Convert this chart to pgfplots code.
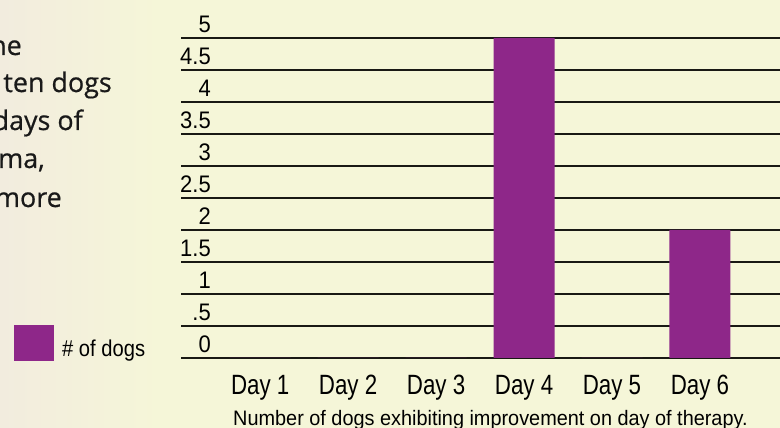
\documentclass[border=0pt]{standalone}
\usepackage{pgfplots}
\pgfplotsset{compat=1.18}
\usepackage{fontspec}
\setmainfont{Liberation Sans}
\newfontfamily\leftfont{Open Sans}[FakeBold=0.6]
\newfontfamily\condDay{Liberation Sans}[FakeStretch=0.8]
\newfontfamily\condY{Liberation Sans}[FakeStretch=0.92]
\newfontfamily\condCap{Liberation Sans}[FakeStretch=0.95]
\newfontfamily\condLeg{Liberation Sans}[FakeStretch=0.88]
\definecolor{bgY}{RGB}{245,246,216}
\definecolor{bgL}{RGB}{242,236,222}
\definecolor{barpurple}{RGB}{142,39,137}
\definecolor{gridc}{RGB}{25,25,20}
\begin{document}
\begin{tikzpicture}
\useasboundingbox (0,0) rectangle (780bp,428bp);
\clip (0,0) rectangle (780bp,428bp);
\fill[bgY] (0,0) rectangle (780bp,428bp);
\shade[left color=bgL, right color=bgY, shading angle=90] (0,0) rectangle (160bp,428bp);
\fill[bgY] (160bp,0) rectangle (780bp,428bp);
% left text fragments (cut off at the left edge, as in the reference)
\begin{scope}[every node/.style={inner sep=0pt, anchor=base east, text=black!90, font=\leftfont\fontsize{27}{27}\selectfont}]
\node at (22bp,373bp) {the};
\node at (112bp,336bp) {ten dogs};
\node at (83bp,298bp) {days of};
\node at (45bp,260bp) {ma,};
\node at (62bp,221bp) {more};
\end{scope}
% legend
\fill[barpurple] (14bp,67bp) rectangle (54bp,103bp);
\node[inner sep=0pt, anchor=base west, font=\condLeg\fontsize{23}{23}\selectfont] at (62bp,71bp) {\# of dogs};
% caption
\node[inner sep=0pt, anchor=base west, font=\condCap\fontsize{21}{21}\selectfont] at (233bp,3bp) {Number of dogs exhibiting improvement on day of therapy.};
\begin{axis}[
  at={(181bp,70bp)}, anchor=south west,
  scale only axis, width=599bp, height=320bp,
  xmin=0.1, xmax=6.91, ymin=0, ymax=5,
  axis line style={draw=none},
  major tick length=0pt,
  xtick={1,2,3,4,5,6},
  xticklabels={Day 1,Day 2,Day 3,Day 4,Day 5,Day 6},
  ytick={0,0.5,1,1.5,2,2.5,3,3.5,4,4.5,5},
  yticklabels={0,.5,1,1.5,2,2.5,3,3.5,4,4.5,5},
  xticklabel style={anchor=base, inner sep=0pt, yshift=-37bp, font=\condDay\fontsize{28}{28}\selectfont},
  yticklabel style={anchor=base east, inner sep=0pt, xshift=30bp, yshift=5bp, font=\condY\fontsize{24}{24}\selectfont},
  ymajorgrids,
  major grid style={gridc, line width=1.5bp},
  clip=false,
]
\addplot[ybar, bar width=61bp, fill=barpurple, draw=none] coordinates {(1,0) (2,0) (3,0) (4,5) (5,0) (6,2)};
\end{axis}
\end{tikzpicture}
\end{document}
